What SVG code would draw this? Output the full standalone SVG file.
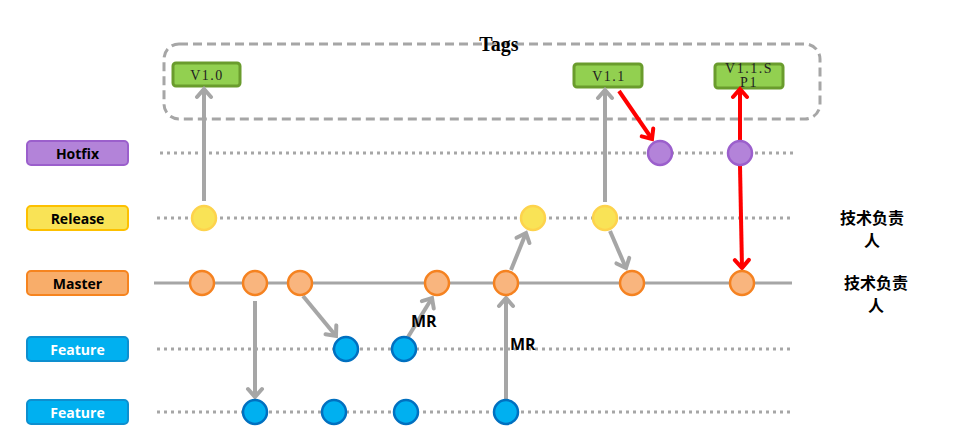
<svg xmlns="http://www.w3.org/2000/svg" width="965" height="439" viewBox="0 0 965 439">
<style>
.lbl{font-family:"Open Sans","Noto Sans","Liberation Sans",sans-serif;font-weight:bold;font-size:14px;text-anchor:middle;dominant-baseline:central}
.tag{font-family:"Liberation Serif",serif;font-size:14px;letter-spacing:1.5px;text-anchor:middle;fill:#222}
.dot{stroke:#a6a6a6;stroke-width:3;stroke-dasharray:3 4;fill:none}
.g{stroke:#a6a6a6;stroke-width:4;fill:none;marker-end:url(#ag)}
.r{stroke:#ff0000;stroke-width:4;fill:none;marker-end:url(#ar)}
.co{fill:#f9b57e;stroke:#f58220;stroke-width:2.5}
.cy{fill:#f9e356;stroke:#fdd34c;stroke-width:2.5}
.cp{fill:#b383d9;stroke:#9b5fcc;stroke-width:2.5}
.cb{fill:#00b0f0;stroke:#0070c0;stroke-width:2.5}
.tb{fill:#92d050;stroke:#6a9c2d;stroke-width:3}
.cn{font-family:"Noto Sans CJK SC",sans-serif;font-weight:bold;font-size:16px;text-anchor:middle}
.mr{font-family:"Open Sans","Noto Sans",sans-serif;font-weight:bold;font-size:16px}
</style>
<defs>
<marker id="ag" markerUnits="userSpaceOnUse" viewBox="-12 -10 15 20" markerWidth="15" markerHeight="20" refX="0" refY="0" orient="auto">
<path d="M-8,-7 L0,0 L-8,7" stroke="#a6a6a6" stroke-width="4" fill="none" stroke-linecap="round"/>
</marker>
<marker id="ar" markerUnits="userSpaceOnUse" viewBox="-12 -10 15 20" markerWidth="15" markerHeight="20" refX="0" refY="0" orient="auto">
<path d="M-8,-7 L0,0 L-8,7" stroke="#ff0000" stroke-width="4" fill="none" stroke-linecap="round"/>
</marker>
</defs>
<rect width="965" height="439" fill="#fff"/>

<g id="lanes">
<line class="dot" x1="160" y1="153" x2="795" y2="153"/>
<line class="dot" x1="157" y1="218" x2="790" y2="218"/>
<line x1="154" y1="283" x2="792" y2="283" stroke="#a6a6a6" stroke-width="3"/>
<line class="dot" x1="157" y1="349" x2="790" y2="349"/>
<line class="dot" x1="157" y1="412" x2="790" y2="412"/>
</g>

<g id="tags-group">
<rect x="164" y="44" width="656" height="75" rx="15" fill="none" stroke="#a6a6a6" stroke-width="3" stroke-dasharray="9 5"/>
<text x="499" y="51" font-family="Liberation Serif,serif" font-weight="bold" font-size="20" text-anchor="middle" fill="#000">Tags</text>
</g>

<g id="label-hotfix"><rect x="27" y="141" width="101" height="24" rx="4" fill="#b383d9" stroke="#9b5fcc" stroke-width="2"/><text class="lbl" x="77.5" y="153" fill="#000">Hotfix</text></g>
<g id="label-release"><rect x="27" y="206" width="101" height="24" rx="4" fill="#f9e356" stroke="#fdc000" stroke-width="2"/><text class="lbl" x="77.5" y="218" fill="#000">Release</text></g>
<g id="label-master"><rect x="27" y="271" width="101" height="24" rx="4" fill="#f8ad6a" stroke="#f6841f" stroke-width="2"/><text class="lbl" x="77.5" y="283" fill="#000">Master</text></g>
<g id="label-feature1"><rect x="27" y="337" width="101" height="24" rx="4" fill="#00b0f0" stroke="#0e8fcf" stroke-width="2"/><text class="lbl" x="77.5" y="349" fill="#fff">Feature</text></g>
<g id="label-feature2"><rect x="27" y="400" width="101" height="24" rx="4" fill="#00b0f0" stroke="#0e8fcf" stroke-width="2"/><text class="lbl" x="77.5" y="412" fill="#fff">Feature</text></g>

<g id="tag-v10"><rect class="tb" x="173" y="63" width="67" height="23" rx="3"/><text class="tag" x="207" y="80">V1.0</text></g>
<g id="tag-v11"><rect class="tb" x="574" y="64" width="68" height="23" rx="3"/><text class="tag" x="609" y="81">V1.1</text></g>
<g id="tag-v11sp1"><rect class="tb" x="715" y="64" width="68" height="24" rx="3"/><text class="tag" x="749" y="73" font-size="10">V1.1.S</text><text class="tag" x="749" y="87" font-size="10">P1</text></g>

<g id="connectors">
<line class="g" x1="204" y1="201" x2="204" y2="89"/>
<line class="g" x1="255" y1="301" x2="255" y2="397"/>
<line class="g" x1="303" y1="296" x2="336" y2="336"/>
<line class="g" x1="408" y1="337" x2="432" y2="298"/>
<line class="g" x1="506" y1="399" x2="506" y2="298"/>
<line class="g" x1="511" y1="270" x2="526" y2="233"/>
<line class="g" x1="605" y1="202" x2="605" y2="90"/>
<line class="g" x1="610" y1="231" x2="626" y2="268"/>
<line class="r" x1="619" y1="91" x2="652" y2="139"/>
<line class="r" x1="740" y1="141" x2="740" y2="89"/>
<line class="r" x1="740" y1="166" x2="742" y2="268"/>
</g>

<g id="commits">
<circle class="cy" cx="204" cy="218" r="12"/>
<circle class="cy" cx="533" cy="218" r="12"/>
<circle class="cy" cx="605" cy="218" r="12"/>
<circle class="cp" cx="660" cy="153" r="12"/>
<circle class="cp" cx="740" cy="153" r="12"/>
<circle class="co" cx="202" cy="283" r="12"/>
<circle class="co" cx="255" cy="283" r="12"/>
<circle class="co" cx="300" cy="283" r="12"/>
<circle class="co" cx="437" cy="283" r="12"/>
<circle class="co" cx="506" cy="283" r="12"/>
<circle class="co" cx="632" cy="283" r="12"/>
<circle class="co" cx="742" cy="283" r="12"/>
<circle class="cb" cx="346" cy="349" r="12"/>
<circle class="cb" cx="404" cy="349" r="12"/>
<circle class="cb" cx="255" cy="412" r="12"/>
<circle class="cb" cx="334" cy="412" r="12"/>
<circle class="cb" cx="406" cy="412" r="12"/>
<circle class="cb" cx="506" cy="412" r="12"/>
</g>

<g id="texts">
<text class="mr" x="411" y="327">MR</text>
<text class="mr" x="510" y="350">MR</text>
<text class="cn" x="872" y="224">技术负责</text>
<text class="cn" x="872" y="246">人</text>
<text class="cn" x="876" y="289">技术负责</text>
<text class="cn" x="876" y="311">人</text>
</g>
</svg>
